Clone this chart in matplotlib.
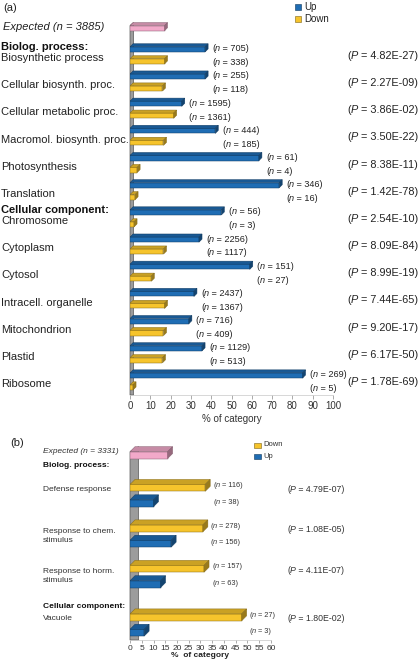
import numpy as np
import matplotlib
matplotlib.use("Agg")
import matplotlib.pyplot as plt
from matplotlib.patches import Polygon, Rectangle
from matplotlib.colors import to_rgb
from matplotlib.transforms import blended_transform_factory

plt.rcParams['font.family'] = ['Liberation Sans', 'DejaVu Sans']

# panel (a) data
a_categories = ["Biosynthetic process", "Cellular biosynth. proc.", "Cellular metabolic proc.",
                "Macromol. biosynth. proc.", "Photosynthesis", "Translation",
                "Chromosome", "Cytoplasm", "Cytosol", "Intracell. organelle",
                "Mitochondrion", "Plastid", "Ribosome"]
a_headers = {0: "Biolog. process:", 6: "Cellular component:"}
a_up = [37, 37, 25.5, 42, 63.5, 73.5, 45, 34, 59, 31.5, 29, 35.5, 85]
a_down = [17, 16, 21.5, 16.5, 3.5, 2.5, 2, 16.5, 10.5, 17, 16.5, 16, 1.5]
a_n_up = [705, 255, 1595, 444, 61, 346, 56, 2256, 151, 2437, 716, 1129, 269]
a_n_down = [338, 118, 1361, 185, 4, 16, 3, 1117, 27, 1367, 409, 513, 5]
a_pvals = ["4.82E-27", "2.27E-09", "3.86E-02", "3.50E-22", "8.38E-11", "1.42E-78",
           "2.54E-10", "8.09E-84", "8.99E-19", "7.44E-65", "9.20E-17", "6.17E-50", "1.78E-69"]
a_expected = 17
a_expected_n = 3885
a_ticks = list(range(0, 101, 10))

# panel (b) data
b_categories = ["Defense response", "Response to chem.\nstimulus",
                "Response to horm.\nstimulus", "Vacuole"]
b_headers = {0: "Biolog. process:", 3: "Cellular component:"}
b_down = [32, 31, 31.5, 47.5]
b_up = [10, 17.5, 13, 6]
b_n_down = [116, 278, 157, 27]
b_n_up = [38, 156, 63, 3]
b_pvals = ["4.79E-07", "1.08E-05", "4.11E-07", "1.80E-02"]
b_expected = 16
b_expected_n = 3331
b_ticks = list(range(0, 61, 5))

BLUE = "#1f6db4"
YELLOW = "#f6c42c"
PINK = "#f2a9c9"
W, H = 420, 659


def shade(c, f):
    r, g, b = to_rgb(c)
    return (r * f, g * f, b * f)


def px(ax):
    # pixels per data unit along x and y
    bb = ax.get_position()
    x0, x1 = ax.get_xlim()
    y0, y1 = ax.get_ylim()
    return bb.width * W / abs(x1 - x0), bb.height * H / abs(y1 - y0)


def bar3d(ax, y, w, h, color, depth):
    sx, sy = px(ax)
    dx, dy = depth / sx, depth / sy
    edge = shade(color, 0.55)
    ax.barh(y, w, height=h, left=0, color=color, edgecolor=edge, linewidth=0.35, zorder=3)
    yt = y - h / 2
    ax.add_patch(Polygon([(0, yt), (w, yt), (w + dx, yt - dy), (dx, yt - dy)],
                         closed=True, facecolor=shade(color, 0.82), edgecolor=edge,
                         linewidth=0.35, zorder=3))
    ax.add_patch(Polygon([(w, yt), (w + dx, yt - dy), (w + dx, yt + h - dy), (w, yt + h)],
                         closed=True, facecolor=shade(color, 0.62), edgecolor=edge,
                         linewidth=0.35, zorder=3))


def wall(ax, ytop, ybot, width_px, depth):
    sx, sy = px(ax)
    dx, dy = width_px / sx, depth / sy
    ax.add_patch(Polygon([(0, ybot), (dx, ybot), (dx, ytop - dy), (0, ytop)],
                         closed=True, facecolor="#9c9c9c", edgecolor="#555555",
                         linewidth=0.5, zorder=1, clip_on=False))


def style_axis(ax, ticks, size):
    for s in ["top", "right", "left"]:
        ax.spines[s].set_visible(False)
    ax.spines["bottom"].set_color("#c8c8c8")
    ax.spines["bottom"].set_linewidth(0.5)
    ax.set_yticks([])
    ax.set_xticks(ticks)
    ax.tick_params(axis="x", length=3, width=0.5, color="#888888", labelsize=size,
                   pad=1.5, labelcolor="#333333")


def itext(ax, x, y, var, rest, size, color, ha="left", transform=None):
    # "(var = rest)" with an italic variable, built from chained pieces
    kw = dict(fontsize=size, color=color, va="center")
    if transform is not None:
        kw["transform"] = transform
    if ha == "left":
        t1 = ax.text(x, y, "(", ha="left", **kw)
        t2 = ax.annotate(var, xy=(1, 0), xycoords=t1, ha="left", va="bottom",
                         fontsize=size, color=color, fontstyle="italic")
        ax.annotate(" = %s)" % rest, xy=(1, 0), xycoords=t2, ha="left", va="bottom",
                    fontsize=size, color=color)
    else:
        t3 = ax.text(x, y, " = %s)" % rest, ha="right", **kw)
        t2 = ax.annotate(var, xy=(0, 0), xycoords=t3, ha="right", va="bottom",
                         fontsize=size, color=color, fontstyle="italic")
        ax.annotate("(", xy=(0, 0), xycoords=t2, ha="right", va="bottom",
                    fontsize=size, color=color)


fig = plt.figure(figsize=(W / 100, H / 100), dpi=100)

# ---------------- panel (a) ----------------
ax = fig.add_axes([130 / W, 1 - 395 / H, 203 / W, 375 / H])
ax.set_xlim(0, 100)
ax.set_ylim(12.5, -1.3)
style_axis(ax, a_ticks, 7)
ax.set_xlabel("% of category", fontsize=7, labelpad=2, color="#333333")

ya = np.arange(len(a_categories), dtype=float)
y_exp = -1.0
bh = 0.19
off = 0.22
wall(ax, y_exp - bh / 2, 12.5, 3.5, 3)
bar3d(ax, y_exp, a_expected, bh, PINK, 3)
sx_a, _ = px(ax)
tr = blended_transform_factory(fig.transFigure, ax.transData)
for i, y in enumerate(ya):
    bar3d(ax, y - off, a_up[i], bh, BLUE, 3)
    bar3d(ax, y + off, a_down[i], bh, YELLOW, 3)
    xn = max(a_up[i], a_down[i]) + 7 / sx_a
    itext(ax, xn, y - off - 0.02, "n", a_n_up[i], 6.6, "#222222")
    itext(ax, xn, y + off + 0.05, "n", a_n_down[i], 6.6, "#222222")
    itext(ax, 418 / W, y + 0.02, "P", a_pvals[i], 7.8, "#222222", ha="right", transform=tr)
    ax.text(1 / W, y + 0.1, a_categories[i], transform=tr, fontsize=8, ha="left",
            va="center", color="#222222")
    if i in a_headers:
        ax.text(1 / W, y - 0.3, a_headers[i], transform=tr, fontsize=8, ha="left",
                va="center", fontweight="bold", color="#111111")
ax.text(3 / W, y_exp - 0.05, "Expected (n = %d)" % a_expected_n, transform=tr, fontsize=8,
        ha="left", va="center", fontstyle="italic", color="#222222")

fig.text(3 / W, 1 - 8 / H, "(a)", fontsize=8, ha="left", va="center", color="#222222")
for k, (lab, col) in enumerate([("Up", BLUE), ("Down", YELLOW)]):
    yy = 1 - (7 + 12 * k) / H
    fig.add_artist(Rectangle((295 / W, yy - 3 / H), 6 / W, 6 / H, transform=fig.transFigure,
                             facecolor=col, edgecolor=shade(col, 0.5), linewidth=0.4))
    fig.text(304 / W, yy, lab, fontsize=7, ha="left", va="center", color="#222222")

# ---------------- panel (b) ----------------
bx = fig.add_axes([130 / W, 1 - 640 / H, 141 / W, 195 / H])
bx.set_xlim(0, 60)
bx.set_ylim(4.57, -0.25)
style_axis(bx, b_ticks, 6)
bx.tick_params(axis="x", pad=0.8, length=2.5)
bx.set_xlabel("%  of category", fontsize=6, labelpad=0.5, fontweight="bold", color="#222222")

gap = 0.2
yb = []
acc = 1.0
for i in range(len(b_categories)):
    if i in b_headers and i > 0:
        acc += gap
    yb.append(acc)
    acc += 1.0
bh_b = 0.17
off_b = 0.19
wall(bx, 0 - bh_b / 2, 4.57, 8.5, 5)
bar3d(bx, 0, b_expected, bh_b, PINK, 5)
sx_b, _ = px(bx)
trb = blended_transform_factory(fig.transFigure, bx.transData)
for i, y in enumerate(yb):
    bar3d(bx, y - off_b, b_down[i], bh_b, YELLOW, 5)
    bar3d(bx, y + off_b, b_up[i], bh_b, BLUE, 5)
    xn = max(b_up[i], b_down[i]) + 8 / sx_b
    itext(bx, xn, y - off_b - 0.05, "n", b_n_down[i], 5.3, "#333333")
    itext(bx, xn, y + off_b - 0.02, "n", b_n_up[i], 5.3, "#333333")
    itext(bx, 287 / W, y - 0.15, "P", b_pvals[i], 6.3, "#333333", transform=trb)
    yl = y if "\n" in b_categories[i] else y - 0.15
    bx.text(43 / W, yl, b_categories[i], transform=trb, fontsize=6, ha="left", va="center",
            color="#333333", linespacing=1.4)
    if i in b_headers:
        yh = y - 0.75 if i == 0 else y - 0.45
        bx.text(43 / W, yh, b_headers[i], transform=trb, fontsize=6, ha="left", va="center",
                fontweight="bold", color="#111111")
bx.text(43 / W, -0.1, "Expected (n = %d)" % b_expected_n, transform=trb, fontsize=6,
        ha="left", va="center", fontstyle="italic", color="#333333")

fig.text(10 / W, 1 - 443 / H, "(b)", fontsize=8, ha="left", va="center", color="#222222")
for k, (lab, col) in enumerate([("Down", YELLOW), ("Up", BLUE)]):
    yy = 1 - (445 + 11 * k) / H
    fig.add_artist(Rectangle((254 / W, yy - 2.5 / H), 7 / W, 5 / H, transform=fig.transFigure,
                             facecolor=col, edgecolor=shade(col, 0.5), linewidth=0.4))
    fig.text(263 / W, yy, lab, fontsize=5.5, ha="left", va="center", color="#333333")

fig.savefig("out.png", dpi=100)
